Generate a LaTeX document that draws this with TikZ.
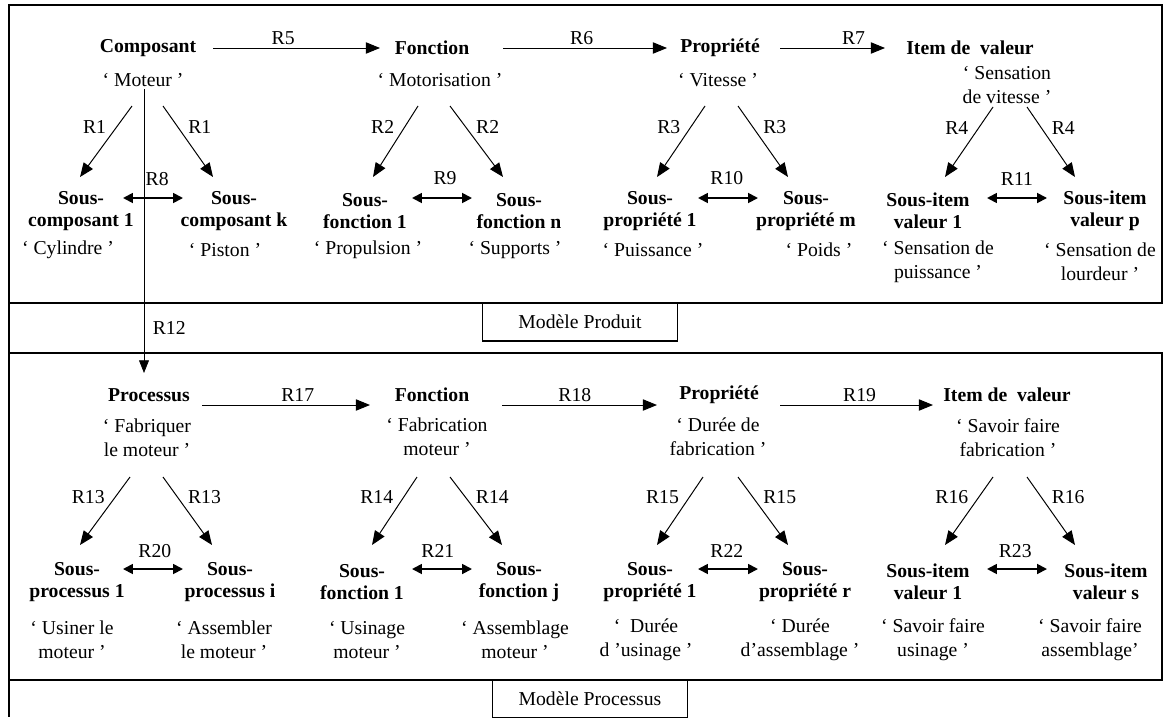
\documentclass[tikz,border=0pt]{standalone}
\usepackage{fontspec}
\setmainfont{Liberation Serif}
\usepackage{tikz}
\usetikzlibrary{
  arrows.meta,          % arrow tips
  positioning,          % relative node placement
  calc,                 % coordinate math
}

\begin{document}
\begin{tikzpicture}[
  x=0.025cm, y=-0.025cm,
  every node/.style={inner sep=0pt, font=\fontsize{14}{16}\selectfont},
  concept/.style={align=center, font=\fontsize{14}{16}\selectfont\bfseries},
  desc/.style={align=center, font=\fontsize{14}{17}\selectfont},
  rel/.style={font=\fontsize{14}{16}\selectfont},
  fleche/.style={-{Triangle[length=10pt,width=8pt]}, line width=0.7pt},
  lien/.style={{Triangle[length=7pt,width=7pt]}-{Triangle[length=7pt,width=7pt]}, line width=1.3pt},
  cadre/.style={line width=1.1pt},
  modele/.style={draw, line width=0.8pt, minimum width=4.875cm, minimum height=0.95cm},
]
  \useasboundingbox (0,0) rectangle (1168,717);
  % Frames
  \draw[cadre] (9,5) rectangle (1162,303);
  \draw[cadre] (9,353) rectangle (1162,680);
  \draw[line width=1.6pt] (9,5) -- (9,717);
  \node[modele, fill=white] (mprod) at (580,322) {Modèle Produit};
  \node[modele, fill=white] (mproc) at (590,699) {Modèle Processus};

  % Product model: top row
  \node[concept] (comp) at (148,48) {Composant};
  \node[desc]    (compD) at (143,80) {‘ Moteur ’};
  \node[concept] (fonc) at (432,48) {Fonction};
  \node[desc]    (foncD) at (440,80) {‘ Motorisation ’};
  \node[concept] (prop) at (720,48) {Propriété};
  \node[desc]    (propD) at (718,80) {‘ Vitesse ’};
  \node[concept] (item) at (970,48) {Item de~ valeur};
  \node[desc]    (itemD) at (1007,85) {‘ Sensation\\de vitesse ’};
  % Product model: sub-elements
  \node[concept] (sc1) at (81,211) {Sous-\\composant 1};
  \node[desc]    (sc1D) at (68,250) {‘ Cylindre ’};
  \node[concept] (sck) at (234,211) {Sous-\\composant k};
  \node[desc]    (sckD) at (225,250) {‘ Piston ’};
  \node[concept] (sf1) at (365,211) {Sous-\\fonction 1};
  \node[desc]    (sf1D) at (368,250) {‘ Propulsion ’};
  \node[concept] (sfn) at (519,211) {Sous-\\fonction n};
  \node[desc]    (sfnD) at (515,250) {‘ Supports ’};
  \node[concept] (sp1) at (650,211) {Sous-\\propriété 1};
  \node[desc]    (sp1D) at (653,250) {‘ Puissance ’};
  \node[concept] (spm) at (806,211) {Sous-\\propriété m};
  \node[desc]    (spmD) at (819,250) {‘ Poids ’};
  \node[concept] (si1) at (928,211) {Sous-item\\valeur 1};
  \node[desc]    (si1D) at (938,262) {‘ Sensation de\\puissance ’};
  \node[concept] (sip) at (1105,211) {Sous-item\\valeur p};
  \node[desc]    (sipD) at (1100,262) {‘ Sensation de\\lourdeur ’};

  % Process model: top row
  \node[concept] (proc) at (149,395) {Processus};
  \node[desc]    (procD) at (147,438) {‘ Fabriquer\\le moteur ’};
  \node[concept] (fonc2) at (432,395) {Fonction};
  \node[desc]    (fonc2D) at (437,437) {‘ Fabrication\\moteur ’};
  \node[concept] (prop2) at (719,395) {Propriété};
  \node[desc]    (prop2D) at (718,437) {‘ Durée de\\fabrication ’};
  \node[concept] (item2) at (1007,395) {Item de~ valeur};
  \node[desc]    (item2D) at (1008,438) {‘ Savoir faire\\fabrication ’};
  % Process model: sub-elements
  \node[concept] (spr1) at (77,582) {Sous-\\processus 1};
  \node[desc]    (spr1D) at (72,640) {‘ Usiner le\\moteur ’};
  \node[concept] (spri) at (230,582) {Sous-\\processus i};
  \node[desc]    (spriD) at (224,640) {‘ Assembler\\le moteur ’};
  \node[concept] (sf1b) at (362,582) {Sous-\\fonction 1};
  \node[desc]    (sf1bD) at (367,640) {‘ Usinage\\moteur ’};
  \node[concept] (sfj) at (519,582) {Sous-\\fonction j};
  \node[desc]    (sfjD) at (515,640) {‘ Assemblage\\moteur ’};
  \node[concept] (sp1b) at (650,582) {Sous-\\propriété 1};
  \node[desc]    (sp1bD) at (646,640) {‘~ Durée\\d ’usinage ’};
  \node[concept] (spr) at (805,582) {Sous-\\propriété r};
  \node[desc]    (sprD) at (800,640) {‘ Durée\\d’assemblage ’};
  \node[concept] (si1b) at (928,582) {Sous-item\\valeur 1};
  \node[desc]    (si1bD) at (933,640) {‘ Savoir faire\\usinage ’};
  \node[concept] (sis) at (1106,582) {Sous-item\\valeur s};
  \node[desc]    (sisD) at (1090,640) {‘ Savoir faire\\assemblage’};

  % Horizontal relations
  \draw[fleche] ([shift={(65,0)}]comp.center) -- node[rel, above=2pt, pos=.42] {R5} ([shift={(-52,0)}]fonc.center);
  \draw[fleche] ([shift={(71,0)}]fonc.center) -- node[rel, above=2pt, pos=.48] {R6} ([shift={(-53,0)}]prop.center);
  \draw[fleche] ([shift={(60,0)}]prop.center) -- node[rel, above=2pt, pos=.7] {R7} ([shift={(-85,0)}]item.center);
  \draw[fleche] ([shift={(53,10)}]proc.center) -- node[rel, above=2pt, pos=.57] {R17} ([shift={(-62,10)}]fonc2.center);
  \draw[fleche] ([shift={(70,10)}]fonc2.center) -- node[rel, above=2pt, pos=.47] {R18} ([shift={(-62,10)}]prop2.center);
  \draw[fleche] ([shift={(61,10)}]prop2.center) -- node[rel, above=2pt, pos=.52] {R19} ([shift={(-74,10)}]item2.center);

  % Decomposition (product)
  \draw[fleche] ([shift={(-11,26)}]compD.center) -- node[rel, left=7pt, pos=.3] {R1} ([shift={(-1,-34)}]sc1.center);
  \draw[fleche] ([shift={(20,26)}]compD.center) -- node[rel, right=7pt, pos=.3] {R1} ([shift={(-21,-34)}]sck.center);
  \draw[fleche] ([shift={(-22,26)}]foncD.center) -- node[rel, left=7pt, pos=.3] {R2} ([shift={(8,-34)}]sf1.center);
  \draw[fleche] ([shift={(10,26)}]foncD.center) -- node[rel, right=7pt, pos=.3] {R2} ([shift={(-16,-34)}]sfn.center);
  \draw[fleche] ([shift={(-13,26)}]propD.center) -- node[rel, left=7pt, pos=.3] {R3} ([shift={(7,-34)}]sp1.center);
  \draw[fleche] ([shift={(20,26)}]propD.center) -- node[rel, right=7pt, pos=.3] {R3} ([shift={(-18,-34)}]spm.center);
  \draw[fleche] ([shift={(-14,22)}]itemD.center) -- node[rel, left=7pt, pos=.3] {R4} ([shift={(17,-34)}]si1.center);
  \draw[fleche] ([shift={(20,22)}]itemD.center) -- node[rel, right=7pt, pos=.3] {R4} ([shift={(-30,-34)}]sip.center);

  % Decomposition (process)
  \draw[fleche] ([shift={(-17,39)}]procD.center) -- node[rel, left=7pt, pos=.3] {R13} ([shift={(3,-37)}]spr1.center);
  \draw[fleche] ([shift={(16,39)}]procD.center) -- node[rel, right=7pt, pos=.3] {R13} ([shift={(-18,-37)}]spri.center);
  \draw[fleche] ([shift={(-20,40)}]fonc2D.center) -- node[rel, left=7pt, pos=.3] {R14} ([shift={(10,-37)}]sf1b.center);
  \draw[fleche] ([shift={(13,40)}]fonc2D.center) -- node[rel, right=7pt, pos=.3] {R14} ([shift={(-17,-37)}]sfj.center);
  \draw[fleche] ([shift={(-15,40)}]prop2D.center) -- node[rel, left=7pt, pos=.3] {R15} ([shift={(7,-37)}]sp1b.center);
  \draw[fleche] ([shift={(20,40)}]prop2D.center) -- node[rel, right=7pt, pos=.3] {R15} ([shift={(-17,-37)}]spr.center);
  \draw[fleche] ([shift={(-15,39)}]item2D.center) -- node[rel, left=7pt, pos=.3] {R16} ([shift={(17,-37)}]si1b.center);
  \draw[fleche] ([shift={(19,39)}]item2D.center) -- node[rel, right=7pt, pos=.3] {R16} ([shift={(-31,-37)}]sis.center);

  % Product to process link
  \draw[-{Triangle[length=9pt,width=7pt]}, line width=0.5pt] ([shift={(1,9)}]compD.center) -- node[rel, right=6pt, pos=.84] {R12} ([shift={(-5,-22)}]proc.center);

  % Sibling relations
  \draw[lien] ([shift={(42,-13)}]sc1.center) -- node[rel, above=8pt, pos=.57] {R8} ([shift={(-51,-13)}]sck.center);
  \draw[lien] ([shift={(47,-13)}]sf1.center) -- node[rel, above=9pt, pos=.55] {R9} ([shift={(-47,-13)}]sfn.center);
  \draw[lien] ([shift={(48,-13)}]sp1.center) -- node[rel, above=9pt, pos=.48] {R10} ([shift={(-48,-13)}]spm.center);
  \draw[lien] ([shift={(59,-13)}]si1.center) -- node[rel, above=8pt, pos=.5] {R11} ([shift={(-58,-13)}]sip.center);
  \draw[lien] ([shift={(46,-13)}]spr1.center) -- node[rel, above=7.5pt, pos=.53] {R20} ([shift={(-47,-13)}]spri.center);
  \draw[lien] ([shift={(50,-13)}]sf1b.center) -- node[rel, above=7.5pt, pos=.43] {R21} ([shift={(-47,-13)}]sfj.center);
  \draw[lien] ([shift={(48,-13)}]sp1b.center) -- node[rel, above=7.5pt, pos=.48] {R22} ([shift={(-47,-13)}]spr.center);
  \draw[lien] ([shift={(59,-13)}]si1b.center) -- node[rel, above=7.5pt, pos=.47] {R23} ([shift={(-59,-13)}]sis.center);
\end{tikzpicture}
\end{document}
